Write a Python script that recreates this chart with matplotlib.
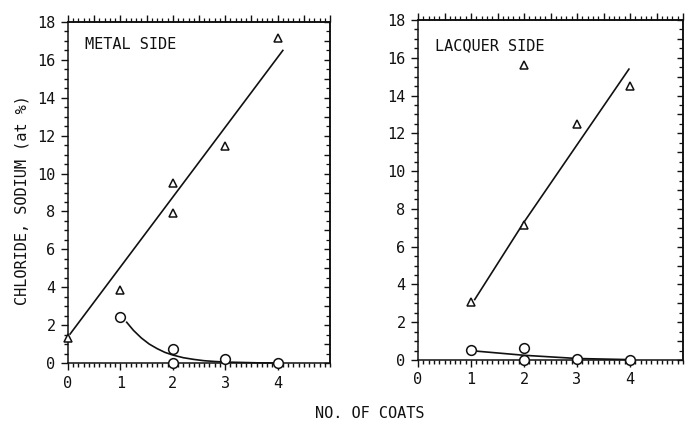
"""
Chloride/sodium content vs number of coats, metal side and lacquer side.
Two side-by-side panels in an old plotter style.
"""
import matplotlib
matplotlib.use("Agg")
import matplotlib.pyplot as plt
from matplotlib.ticker import MultipleLocator, NullFormatter

FONT = "DejaVu Sans Mono"
INK = "#111111"

# Metal side
metal_tri_x = [0, 1, 2, 2, 3, 4]
metal_tri_y = [1.3, 3.85, 9.5, 7.9, 11.45, 17.15]
metal_circ_x = [1, 2, 2, 3, 4]
metal_circ_y = [2.43, 0.74, 0.0, 0.2, 0.0]
# fitted lines as drawn on the original
metal_tri_fit_x = [0.04, 4.1]
metal_tri_fit_y = [1.53, 16.5]
metal_circ_fit_x = [1.12, 1.25, 1.4, 1.55, 1.7, 1.85, 2.0, 2.2, 2.4, 2.6,
                    2.8, 3.0, 3.3, 3.6, 4.0]
metal_circ_fit_y = [2.15, 1.72, 1.32, 1.0, 0.76, 0.56, 0.42, 0.28, 0.19, 0.12,
                    0.08, 0.05, 0.03, 0.01, 0.0]

# Lacquer side
lacq_tri_x = [1, 2, 2, 3, 4]
lacq_tri_y = [3.07, 7.14, 15.6, 12.5, 14.5]
lacq_circ_x = [1, 2, 2, 3, 4]
lacq_circ_y = [0.53, 0.63, 0.0, 0.05, 0.0]
lacq_tri_fit_x = [1.07, 2.0, 3.98]
lacq_tri_fit_y = [3.2, 7.3, 15.4]
lacq_circ_fit_x = [1.1, 2.0, 3.0, 4.0]
lacq_circ_fit_y = [0.47, 0.25, 0.08, 0.02]

y_ticks = list(range(0, 19, 2))
x_ticks = [0, 1, 2, 3, 4]


def style_panel(ax):
    ax.set_xlim(0, 5)
    ax.set_ylim(0, 18)
    for sp in ax.spines.values():
        sp.set_linewidth(1.1)
        sp.set_color(INK)

    ax.set_xticks(x_ticks)
    ax.set_yticks(y_ticks)
    ax.xaxis.set_minor_locator(MultipleLocator(0.1))
    ax.yaxis.set_minor_locator(MultipleLocator(0.5))
    ax.tick_params(which="both", direction="out", top=False, right=False,
                   color=INK, width=1.0)
    ax.tick_params(axis="x", which="major", length=5, pad=4)
    ax.tick_params(axis="x", which="minor", length=3)
    ax.tick_params(axis="y", which="major", length=5, pad=4)
    ax.tick_params(axis="y", which="minor", length=3)
    for lab in ax.get_xticklabels() + ax.get_yticklabels():
        lab.set_fontfamily(FONT)
        lab.set_fontsize(11)
        lab.set_color(INK)

    # top spine: small ticks pointing up
    top = ax.secondary_xaxis("top")
    top.xaxis.set_major_locator(MultipleLocator(0.5))
    top.xaxis.set_minor_locator(MultipleLocator(0.1))
    top.xaxis.set_major_formatter(NullFormatter())
    top.tick_params(which="major", direction="out", length=5, width=1.0, color=INK)
    top.tick_params(which="minor", direction="out", length=3, width=0.9, color=INK)
    top.spines["top"].set_linewidth(1.1)

    # right spine: ticks pointing in
    right = ax.secondary_yaxis("right")
    right.yaxis.set_major_locator(MultipleLocator(1))
    right.yaxis.set_minor_locator(MultipleLocator(0.5))
    right.yaxis.set_major_formatter(NullFormatter())
    right.tick_params(which="major", direction="in", length=4, width=1.0, color=INK)
    right.tick_params(which="minor", direction="in", length=3, width=0.9, color=INK)
    right.spines["right"].set_linewidth(1.1)


def draw_series(ax, tri_x, tri_y, circ_x, circ_y, tfx, tfy, cfx, cfy):
    ax.plot(tfx, tfy, color=INK, lw=1.2, zorder=2)
    ax.plot(cfx, cfy, color=INK, lw=1.2, zorder=2, clip_on=False)
    ax.plot(tri_x, tri_y, linestyle="none", marker="^", markersize=6,
            markerfacecolor="white", markeredgecolor=INK, markeredgewidth=1.1,
            zorder=3, clip_on=False)
    ax.plot(circ_x, circ_y, linestyle="none", marker="o", markersize=7,
            markerfacecolor="white", markeredgecolor=INK, markeredgewidth=1.1,
            zorder=3, clip_on=False)


fig = plt.figure(figsize=(6.86, 4.24), dpi=100)
fig.set_facecolor("white")

ax1 = fig.add_axes([68 / 686, 61 / 424, 262 / 686, 341 / 424])
ax2 = fig.add_axes([418 / 686, 64 / 424, 265 / 686, 340 / 424])

draw_series(ax1, metal_tri_x, metal_tri_y, metal_circ_x, metal_circ_y,
            metal_tri_fit_x, metal_tri_fit_y, metal_circ_fit_x, metal_circ_fit_y)
draw_series(ax2, lacq_tri_x, lacq_tri_y, lacq_circ_x, lacq_circ_y,
            lacq_tri_fit_x, lacq_tri_fit_y, lacq_circ_fit_x, lacq_circ_fit_y)

style_panel(ax1)
style_panel(ax2)

ax1.text(0.065, 0.933, "METAL SIDE", transform=ax1.transAxes, ha="left",
         va="center", fontfamily=FONT, fontsize=11, color=INK)
ax2.text(0.064, 0.926, "LACQUER SIDE", transform=ax2.transAxes, ha="left",
         va="center", fontfamily=FONT, fontsize=11, color=INK)

fig.text(22 / 686, 1 - 200 / 424, "CHLORIDE, SODIUM (at %)", rotation=90,
         ha="center", va="center", fontfamily=FONT, fontsize=11, color=INK)
fig.text(370 / 686, 1 - 413 / 424, "NO. OF COATS", ha="center", va="center",
         fontfamily=FONT, fontsize=11, color=INK)

fig.savefig("out.png", dpi=100, facecolor="white")
plt.close(fig)
